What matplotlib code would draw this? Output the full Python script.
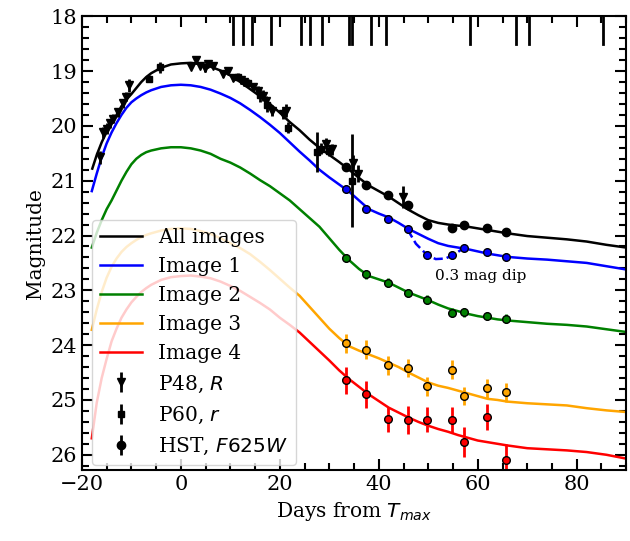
import numpy as np
import matplotlib.pyplot as plt

plt.rcParams['font.family'] = 'serif'
plt.rcParams['font.serif'] = ['DejaVu Serif']

# model light curves (days from peak, magnitude)
t_all = [-17.9, -17, -16, -15, -14, -13, -12, -11, -10, -9, -8, -7, -6, -4, -2, 0,
         2, 4, 6, 8, 10, 12, 14, 16, 18, 20, 22, 24, 26, 28, 30, 32, 34, 36, 38, 40,
         42, 44, 46, 48, 50, 52, 54, 56, 58, 60, 62, 64, 66, 70, 74, 78, 82, 86, 90]
m_all = [20.78, 20.53, 20.3, 20.11, 19.95, 19.8, 19.64, 19.52, 19.42, 19.31, 19.2, 19.11, 19.04, 18.94, 18.88, 18.86,
         18.85, 18.87, 18.92, 18.99, 19.08, 19.2, 19.33, 19.46, 19.6, 19.76,
         19.93, 20.08, 20.25, 20.4, 20.53, 20.66, 20.8, 20.95, 21.09, 21.19,
         21.29, 21.41, 21.53, 21.63, 21.72, 21.77, 21.8, 21.82, 21.84, 21.87,
         21.9, 21.93, 21.96, 22.01, 22.04, 22.07, 22.11, 22.17, 22.22]

t_mod = [-18, -17, -16, -15, -14, -13, -12, -11, -10, -9, -8, -7, -6, -4, -2, 0,
         2, 4, 6, 8, 10, 12, 14, 16, 18, 20, 22, 24, 26, 28, 30, 32, 34, 36, 38, 40,
         42, 44, 46, 48, 50, 52, 54, 56, 58, 60, 62, 64, 66, 70, 74, 78, 82, 86, 90]
m_img1 = [21.19, 20.87, 20.57, 20.32, 20.12, 19.95, 19.8, 19.67, 19.57, 19.5, 19.44, 19.39, 19.35, 19.29, 19.26, 19.25,
          19.26, 19.29, 19.34, 19.41, 19.49, 19.59, 19.71, 19.84, 19.98, 20.13,
          20.3, 20.47, 20.63, 20.8, 20.94, 21.07, 21.2, 21.36, 21.52, 21.6,
          21.67, 21.77, 21.88, 21.97, 22.06, 22.14, 22.19, 22.22, 22.25, 22.29,
          22.33, 22.36, 22.39, 22.42, 22.44, 22.47, 22.5, 22.56, 22.62]
m_img2 = [22.22, 21.95, 21.72, 21.52, 21.36, 21.18, 21.0, 20.84, 20.7, 20.6, 20.53, 20.48, 20.45, 20.41, 20.39, 20.39,
          20.41, 20.45, 20.51, 20.6, 20.67, 20.76, 20.87, 20.99, 21.1, 21.23,
          21.36, 21.52, 21.68, 21.84, 22.05, 22.26, 22.45, 22.61, 22.74, 22.8,
          22.86, 22.95, 23.04, 23.11, 23.18, 23.26, 23.33, 23.38, 23.43, 23.47,
          23.5, 23.53, 23.55, 23.58, 23.61, 23.63, 23.66, 23.71, 23.76]
m_img3 = [23.72, 23.35, 23.03, 22.77, 22.57, 22.42, 22.3, 22.21, 22.14, 22.08, 22.03, 21.99, 21.96, 21.91, 21.88, 21.87,
          21.88, 21.92, 21.97, 22.05, 22.14, 22.23, 22.34, 22.48, 22.63, 22.79,
          22.95, 23.1, 23.3, 23.5, 23.7, 23.87, 24.02, 24.1, 24.17, 24.24,
          24.32, 24.4, 24.5, 24.59, 24.68, 24.74, 24.78, 24.83, 24.88, 24.93,
          24.98, 25.0, 25.03, 25.06, 25.08, 25.1, 25.15, 25.19, 25.22]
m_img4 = [25.7, 25.05, 24.6, 24.25, 23.93, 23.7, 23.5, 23.35, 23.22, 23.12, 23.03, 22.96, 22.9, 22.81, 22.76, 22.74,
          22.73, 22.75, 22.78, 22.84, 22.92, 23.01, 23.12, 23.23, 23.35, 23.5,
          23.63, 23.77, 23.94, 24.11, 24.28, 24.46, 24.62, 24.76, 24.9, 25.02,
          25.14, 25.23, 25.32, 25.4, 25.47, 25.53, 25.58, 25.64, 25.69, 25.74,
          25.77, 25.8, 25.83, 25.88, 25.9, 25.92, 25.95, 26.0, 26.07]

# dip in image 1
t_dip = [45.8, 47.5, 49.7, 51.5, 53.5, 55.5, 57.3]
m_dip = [21.89, 22.15, 22.35, 22.43, 22.42, 22.33, 22.22]

# ground based photometry
t_p48 = [-16.4, -15.7, -15.0, -14.3, -13.7, -12.7, -11.7, -11.0, -10.5, 2.1, 3.1, 3.8, 4.8, 5.5, 6.5, 8.5,
         9.5, 10.5, 12.2, 12.8, 14.5, 15.5, 16.5, 17.2, 18.5, 20.6, 21.2, 29.3, 30.5, 34.7, 35.7, 44.8]
m_p48 = [20.57, 20.12, 20.05, 19.95, 19.87, 19.75, 19.59, 19.47, 19.26, 18.92, 18.8, 18.9, 18.95, 18.88, 18.9, 19.05,
         19.0, 19.12, 19.17, 19.2, 19.29, 19.36, 19.45, 19.55, 19.72, 19.78, 19.72, 20.33, 20.43, 20.68, 20.87, 21.3]
e_p48 = [0.12, 0.1, 0.1, 0.08, 0.08, 0.08, 0.08, 0.08, 0.12, 0.05, 0.05, 0.05, 0.06, 0.05, 0.05, 0.06,
         0.06, 0.06, 0.07, 0.07, 0.08, 0.08, 0.1, 0.1, 0.1, 0.1, 0.12, 0.1, 0.1, 0.15, 0.15, 0.2]

t_p60 = [-6.4, -4.3, 11.5, 13.5, 16.0, 17.5, 21.6, 27.6, 28.3, 30.0, 34.5]
m_p60 = [19.14, 18.93, 19.1, 19.22, 19.44, 19.62, 20.03, 20.48, 20.42, 20.45, 21.0]
e_p60 = [0.06, 0.1, 0.07, 0.07, 0.12, 0.12, 0.1, 0.37, 0.1, 0.1, 0.85]

# HST F625W
t_hst = [33.3, 37.4, 41.8, 45.8, 49.7, 54.7, 57.3, 61.9, 65.7]
m_hst_all = [20.75, 21.08, 21.27, 21.45, 21.81, 21.86, 21.8, 21.86, 21.94]
m_hst1 = [21.15, 21.51, 21.69, 21.89, 22.35, 22.36, 22.22, 22.31, 22.39]
m_hst2 = [22.41, 22.71, 22.86, 23.05, 23.17, 23.41, 23.4, 23.47, 23.52]
m_hst3 = [23.97, 24.08, 24.37, 24.42, 24.75, 24.45, 24.93, 24.79, 24.86]
m_hst4 = [24.64, 24.9, 25.35, 25.37, 25.36, 25.37, 25.77, 25.31, 26.09]
e_hst1 = [0.07] * 9
e_hst2 = [0.08] * 9
e_hst3 = [0.17] * 9
e_hst4 = [0.25, 0.25, 0.23, 0.26, 0.23, 0.24, 0.27, 0.24, 0.29]

# epochs marked at the top
t_marks = [10.5, 12.5, 14.3, 18.2, 24.3, 26.1, 28.6, 33.9, 34.5, 38.4, 41.5, 58.4, 67.7, 70.3, 85.4]

fig = plt.figure(figsize=(6.3, 5.41), dpi=100)
ax = fig.add_axes([0.130, 0.131, 0.864, 0.839])

ax.plot(t_all, m_all, color='k', lw=1.8, label='All images')
ax.plot(t_mod, m_img1, color='b', lw=1.8, label='Image 1')
ax.plot(t_mod, m_img2, color='g', lw=1.8, label='Image 2')
ax.plot(t_mod, m_img3, color='orange', lw=1.8, label='Image 3')
ax.plot(t_mod, m_img4, color='r', lw=1.8, label='Image 4')
ax.plot(t_dip, m_dip, color='b', lw=1.8, ls='--')

ax.errorbar(t_p48, m_p48, yerr=e_p48, fmt='v', color='k', ms=6, elinewidth=2, label='P48, $R$')
ax.errorbar(t_p60, m_p60, yerr=e_p60, fmt='s', color='k', ms=5, elinewidth=2, label='P60, $r$')
ax.errorbar(t_hst, m_hst_all, yerr=0.02, fmt='o', color='k', ms=6, elinewidth=2, label='HST, $F625W$')
for m, e, c in [(m_hst1, e_hst1, 'b'), (m_hst2, e_hst2, 'g'), (m_hst3, e_hst3, 'orange'), (m_hst4, e_hst4, 'r')]:
    ax.errorbar(t_hst, m, yerr=e, fmt='o', mfc=c, mec='k', ecolor=c, ms=5.5, mew=1, elinewidth=2)

for t in t_marks:
    ax.axvline(t, ymin=0.938, ymax=1, color='k', lw=2)

ax.text(60.6, 22.73, '0.3 mag dip', ha='center', va='center', fontsize=11)

ax.set_xlim(-20, 90)
ax.set_ylim(26.28, 18)
ax.set_xticks([-20, 0, 20, 40, 60, 80])
ax.set_yticks(range(18, 27))
ax.xaxis.set_minor_locator(plt.MultipleLocator(5))
ax.yaxis.set_minor_locator(plt.MultipleLocator(0.2))
ax.tick_params(which='both', direction='in', top=True, right=True, width=1.5, labelsize=15)
ax.tick_params(which='major', length=8)
ax.tick_params(which='minor', length=5)
for s in ax.spines.values():
    s.set_linewidth(1.5)

ax.set_xlabel('Days from $T_{max}$', fontsize=14.5)
ax.set_ylabel('Magnitude', fontsize=14.5)

ax.legend(loc='lower left', bbox_to_anchor=(0.018, 0.011), borderaxespad=0,
          fontsize=14.5, framealpha=0.8, handlelength=2.1)

plt.savefig('out.png')
